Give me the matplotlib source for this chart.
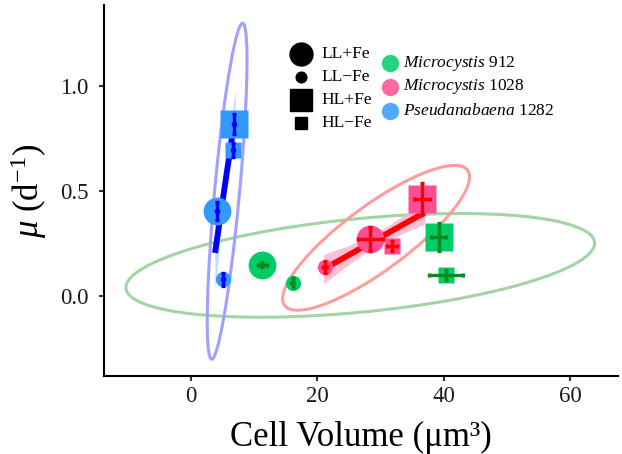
import matplotlib
matplotlib.use("Agg")
import matplotlib.pyplot as plt
import numpy as np
from matplotlib.lines import Line2D
from matplotlib.patches import Ellipse

plt.rcParams["font.family"] = ["Liberation Serif", "DejaVu Serif"]
plt.rcParams["mathtext.fontset"] = "custom"
plt.rcParams["mathtext.rm"] = "Liberation Serif"
plt.rcParams["mathtext.it"] = "Liberation Serif:italic"

# Treatments: LL+Fe, LL-Fe, HL+Fe, HL-Fe
treatments = ["LL+Fe", "LL\u2212Fe", "HL+Fe", "HL\u2212Fe"]
species = ["Microcystis 912", "Microcystis 1028", "Pseudanabaena 1282"]

# cell volume (um^3) and growth rate (d^-1), one value per treatment
m912_vol = [11.3, 16.1, 39.2, 40.3]
m912_mu = [0.148, 0.063, 0.281, 0.100]
m912_vol_err = [0.7, 0.2, 1.2, 2.7]
m912_mu_err = [0.012, 0.021, 0.066, 0.022]

m1028_vol = [28.4, 21.2, 36.5, 31.8]
m1028_mu = [0.271, 0.138, 0.462, 0.238]
m1028_vol_err = [2.0, 0.3, 1.26, 0.74]
m1028_mu_err = [0.057, 0.030, 0.075, 0.026]

p1282_vol = [4.1, 5.1, 6.8, 6.6]
p1282_mu = [0.405, 0.080, 0.820, 0.695]
p1282_vol_err = [0.15, 0.15, 0.15, 0.15]
p1282_mu_err = [0.043, 0.030, 0.048, 0.033]

# linear fits with confidence bands
m1028_fit_x = [21.0, 37.0]
m1028_fit_y = [0.128, 0.398]
m1028_band_x = [21.0, 25.0, 29.0, 33.0, 37.0]
m1028_band_hw = [0.07, 0.045, 0.03, 0.04, 0.055]

p1282_fit_x = [3.8, 7.0]
p1282_fit_y = [0.205, 0.862]
p1282_band_x = [3.8, 4.6, 5.4, 6.2, 7.0]
p1282_band_hw = [0.17, 0.10, 0.06, 0.08, 0.12]

# confidence ellipses: centre, half extents along x and y, correlation
ell_center = [(26.8, 0.146), (29.3, 0.277), (5.72, 0.499)]
ell_sx = [37.1, 14.8, 3.15]
ell_sy = [0.247, 0.345, 0.80]
ell_rho = [0.426, 0.84, 0.776]

point_colors = ["#00CC66", "#FF4F94", "#3399FF"]
bar_colors = ["#0B8A1E", "#FF0000", "#0000FF"]
ellipse_colors = ["#A3D4A3", "#FF9C9C", "#A0A0FF"]
band_colors = ["#FFB0CC", "#A8D4FF"]

markers = ["o", "o", "s", "s"]
sizes = [20, 11, 20, 11]

fig = plt.figure(figsize=(6.22, 4.54), dpi=100)
ax = fig.add_axes([0.1664, 0.1718, 0.8272, 0.8172])

# Ellipses
for (cx, cy), sx, sy, rho, col in zip(ell_center, ell_sx, ell_sy, ell_rho, ellipse_colors):
    cov = np.array([[sx**2, rho * sx * sy], [rho * sx * sy, sy**2]])
    vals, vecs = np.linalg.eigh(cov)
    angle = np.degrees(np.arctan2(vecs[1, 1], vecs[0, 1]))
    e = Ellipse((cx, cy), 2 * np.sqrt(vals[1]), 2 * np.sqrt(vals[0]), angle=angle,
                fill=False, edgecolor=col, lw=2.2, zorder=1)
    ax.add_patch(e)

# Fit bands and lines
fits = [
    (m1028_fit_x, m1028_fit_y, m1028_band_x, m1028_band_hw, band_colors[0], bar_colors[1]),
    (p1282_fit_x, p1282_fit_y, p1282_band_x, p1282_band_hw, band_colors[1], bar_colors[2]),
]
for fx, fy, bx, bhw, bcol, lcol in fits:
    centre = np.interp(bx, fx, fy)
    ax.fill_between(bx, centre - np.array(bhw), centre + np.array(bhw),
                    color=bcol, alpha=0.8, lw=0, zorder=2)
    ax.plot(fx, fy, color=lcol, lw=4.2, solid_capstyle="butt", zorder=3)

# Points and error bars
groups = [
    (m912_vol, m912_mu, m912_vol_err, m912_mu_err),
    (m1028_vol, m1028_mu, m1028_vol_err, m1028_mu_err),
    (p1282_vol, p1282_mu, p1282_vol_err, p1282_mu_err),
]
for (vol, mu, verr, merr), pc, bc in zip(groups, point_colors, bar_colors):
    for i in range(4):
        ax.plot(vol[i], mu[i], marker=markers[i], ms=sizes[i], color=pc,
                mec="none", ls="none", zorder=4)
        ax.errorbar(vol[i], mu[i], xerr=verr[i], yerr=merr[i], fmt="none",
                    ecolor=bc, elinewidth=2.4, capsize=1.5, capthick=2.4, zorder=5)

ax.set_xlim(-13.85, 67.6)
ax.set_ylim(-0.381, 1.386)
ax.set_xticks([0, 20, 40, 60])
ax.set_yticks([0.0, 0.5, 1.0])
ax.set_yticklabels(["0.0", "0.5", "1.0"])
for s in ["top", "right"]:
    ax.spines[s].set_visible(False)
for s in ["left", "bottom"]:
    ax.spines[s].set_linewidth(1.5)
ax.tick_params(length=3.5, width=1.5, color="#333333", labelsize=16.5,
               labelcolor="#1a1a1a")
ax.tick_params(axis="x", pad=4)
ax.tick_params(axis="y", pad=7.5)
ax.set_xlabel("Cell Volume (\u03bcm\u00b3)", fontsize=25, labelpad=10)
ax.set_ylabel(r"$\mu$ (d$^{\mathrm{-1}}$)", fontsize=25, labelpad=8)

# Legends drawn in figure pixel space
W, H = 622, 454


def fpos(px, py):
    return px / W, 1 - py / H


leg_ms = [16.5, 7.7, 16.5, 8.4]
leg_rows = [54.3, 76.7, 100.0, 122.7]
for lab, mk, ms, py in zip(treatments, markers, leg_ms, leg_rows):
    x, y = fpos(301, py)
    fig.add_artist(Line2D([x], [y], marker=mk, ms=ms, color="black", ls="none",
                          transform=fig.transFigure))
    tx, ty = fpos(321, py)
    fig.text(tx, ty, lab, fontsize=12.5, va="center", ha="left")

sp_labels = [r"$\mathit{Microcystis}$ 912", r"$\mathit{Microcystis}$ 1028",
             r"$\mathit{Pseudanabaena}$ 1282"]
sp_rows = [63.3, 86.7, 110.7]
for lab, col, py in zip(sp_labels, point_colors, sp_rows):
    x, y = fpos(390, py)
    fig.add_artist(Line2D([x], [y], marker="o", ms=12.5, color=col, alpha=0.85,
                          mec="none", ls="none", transform=fig.transFigure))
    tx, ty = fpos(403, py)
    fig.text(tx, ty, lab, fontsize=12.5, va="center", ha="left")

fig.savefig("out.png", dpi=100)
